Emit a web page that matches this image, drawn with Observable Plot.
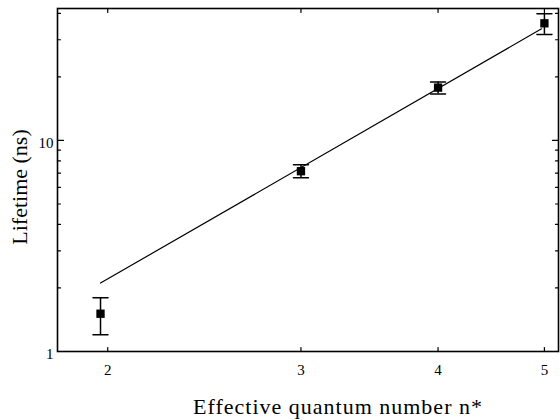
<!DOCTYPE html>
<html>
<head>
<meta charset="utf-8">
<script src="https://cdn.jsdelivr.net/npm/d3@7"></script>
<script src="https://cdn.jsdelivr.net/npm/@observablehq/plot@0.6"></script>
<style>
  html, body { margin: 0; padding: 0; background: #fff; }
  .xtitle text { letter-spacing: 1px; }
</style>
</head>
<body>
<div id="chart"></div>
<script>
// Data
const nStar    = [1.97, 3.0, 4.0, 5.0];
const lifetime = [1.51, 7.15, 17.8, 35.9];
const errLow   = [1.20, 6.66, 16.6, 31.8];
const errHigh  = [1.80, 7.67, 18.9, 39.9];
const fitX = [1.97, 4.97];
const fitY = [2.11, 33.8];

const xTicks = [2, 3, 4, 5];
const yMajor = [1, 10];
const yMinor = [2, 3, 4, 5, 6, 7, 8, 9, 20, 30, 40];

const points = nStar.map((x, i) => ({x, y: lifetime[i], lo: errLow[i], hi: errHigh[i]}));
const fit = fitX.map((x, i) => ({x, y: fitY[i]}));

const line = {draw(ctx, l) { ctx.moveTo(0, 0); ctx.lineTo(0, -l); }};

const chart = Plot.plot({
  width: 560,
  height: 420,
  marginLeft: 57,
  marginRight: 2,
  marginTop: 8,
  marginBottom: 69,
  style: {fontFamily: "'Liberation Serif', 'DejaVu Serif', serif", fontSize: "15px", color: "#000", background: "#fff"},
  x: {type: "log", domain: [1.8, 5.15], axis: null},
  y: {type: "log", domain: [1, 42.2], axis: null},
  marks: [
    // inward ticks
    Plot.vector(xTicks, {x: d => d, frameAnchor: "bottom", length: 4, rotate: 0, anchor: "start", shape: line, stroke: "#000", strokeWidth: 1.2}),
    Plot.vector(xTicks, {x: d => d, frameAnchor: "top", length: 4, rotate: 180, anchor: "start", shape: line, stroke: "#000", strokeWidth: 1.2}),
    Plot.vector(yMajor, {y: d => d, frameAnchor: "left", length: 6, rotate: 90, anchor: "start", shape: line, stroke: "#000", strokeWidth: 1.2}),
    Plot.vector(yMinor, {y: d => d, frameAnchor: "left", length: 3, rotate: 90, anchor: "start", shape: line, stroke: "#000", strokeWidth: 1.2}),
    Plot.vector(yMajor, {y: d => d, frameAnchor: "right", length: 6, rotate: -90, anchor: "start", shape: line, stroke: "#000", strokeWidth: 1.2}),
    Plot.vector(yMinor, {y: d => d, frameAnchor: "right", length: 3, rotate: -90, anchor: "start", shape: line, stroke: "#000", strokeWidth: 1.2}),
    // tick labels
    Plot.text(xTicks, {x: d => d, text: d => String(d), frameAnchor: "bottom", textAnchor: "middle", lineAnchor: "middle", dy: 19, fill: "#000"}),
    Plot.text(yMajor, {y: d => d, text: d => String(d), frameAnchor: "left", textAnchor: "end", lineAnchor: "middle", dx: -4, dy: 3, fill: "#000"}),
    // axis titles
    Plot.text(["Effective quantum number n*"], {text: d => d, frameAnchor: "bottom", textAnchor: "middle", lineAnchor: "middle", dx: 30, dy: 55, fontSize: 22, fill: "#000", className: "xtitle"}),
    Plot.text(["Lifetime (ns)"], {text: d => d, frameAnchor: "left", textAnchor: "middle", lineAnchor: "middle", dx: -38, dy: 7, rotate: -90, fontSize: 22, fill: "#000"}),
    // fit line
    Plot.line(fit, {x: "x", y: "y", stroke: "#000", strokeWidth: 1.2}),
    // error bars
    Plot.ruleX(points, {x: "x", y1: "lo", y2: "hi", stroke: "#000", strokeWidth: 1.5}),
    Plot.vector(points, {x: "x", y: "lo", length: 15, rotate: 90, anchor: "middle", shape: line, stroke: "#000", strokeWidth: 1.5}),
    Plot.vector(points, {x: "x", y: "hi", length: 15, rotate: 90, anchor: "middle", shape: line, stroke: "#000", strokeWidth: 1.5}),
    // markers
    Plot.dot(points, {x: "x", y: "y", symbol: "square", r: 4.7, fill: "#000", stroke: "none"}),
    Plot.frame({stroke: "#000", strokeWidth: 1.6})
  ]
});
document.getElementById("chart").appendChild(chart);
</script>
</body>
</html>
